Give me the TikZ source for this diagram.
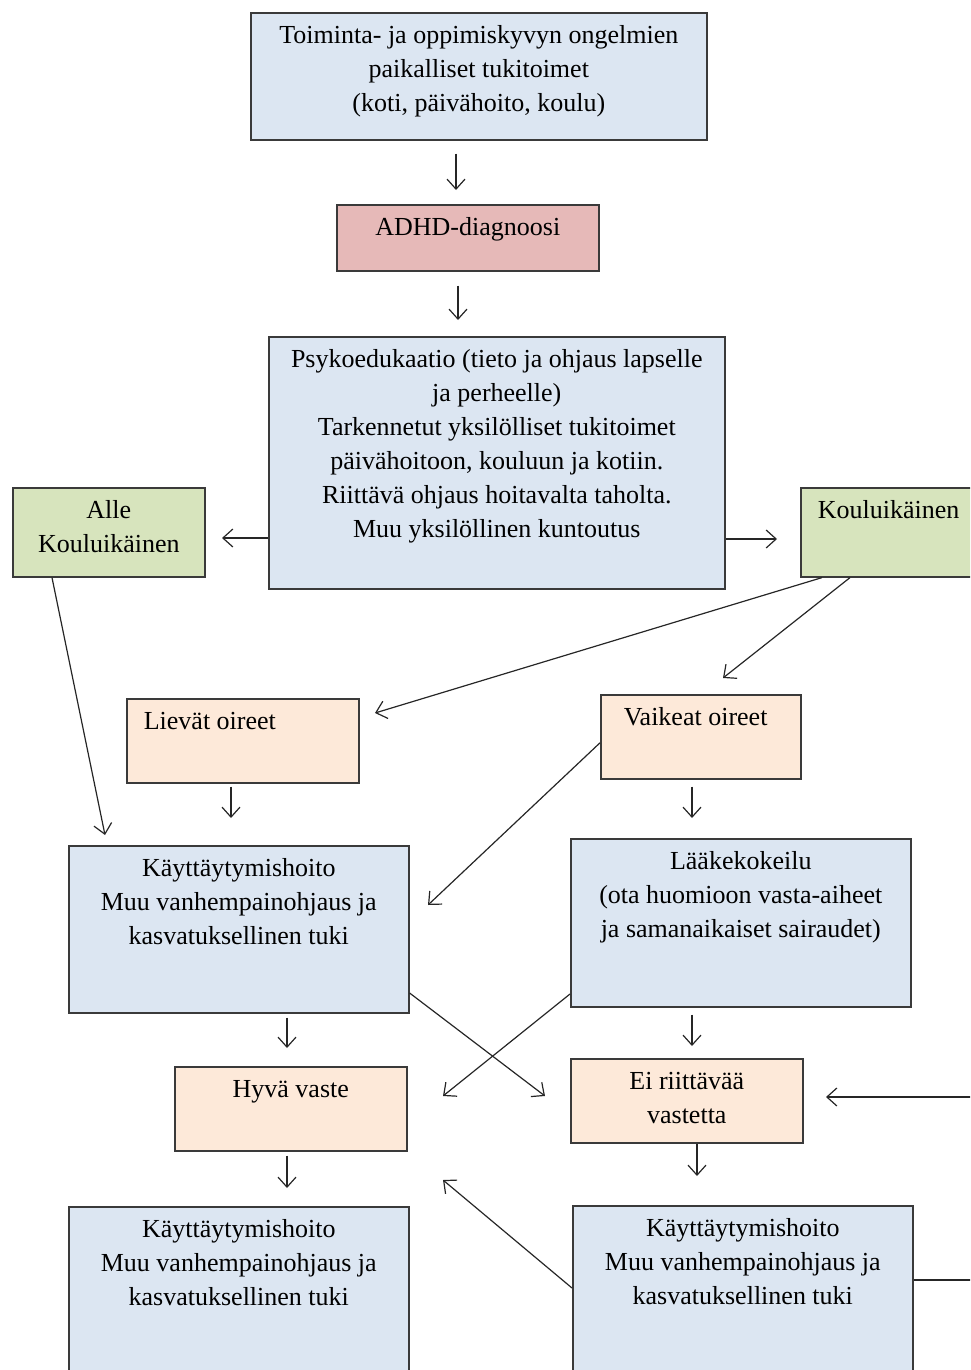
\documentclass[tikz,border=0pt]{standalone}
\usepackage{fontspec}
\setmainfont{Liberation Serif}
\usetikzlibrary{arrows.meta}
\definecolor{boxblue}{HTML}{DCE6F2}
\definecolor{boxpink}{HTML}{E6B9B8}
\definecolor{boxgreen}{HTML}{D7E4BD}
\definecolor{boxpeach}{HTML}{FDE9D9}
\definecolor{boxline}{HTML}{3A3A3A}
\newcommand{\boxtext}[3]{\parbox[t][#2][t]{#1}{\centering\rule{0pt}{15.5pt}#3}}
\newcommand{\boxtextl}[3]{\parbox[t][#2][t]{#1}{\raggedright\rule{0pt}{15.5pt}#3}}

\begin{document}
\begin{tikzpicture}[x=0.5pt, y=-0.5pt,
    box/.style={draw=boxline, line width=0.8pt, inner sep=0pt, anchor=north west,
      font=\fontsize{13}{17}\selectfont},
    arr/.style={draw=black!85, line width=0.6pt, -{Straight Barb[length=5pt,width=9pt]}}]
  \useasboundingbox (0,0) rectangle (970,1370);
  \clip (0,0) rectangle (970,1370);

  \node[box, fill=boxblue] (top) at (250,12)
    {\boxtext{228pt}{63.5pt}{Toiminta- ja oppimiskyvyn ongelmien\\ paikalliset tukitoimet\\ (koti, päivähoito, koulu)}};
  \node[box, fill=boxpink] (adhd) at (336,204)
    {\boxtext{131pt}{33pt}{ADHD-diagnoosi}};
  \node[box, fill=boxblue] (psy) at (268,336)
    {\boxtext{228pt}{126pt}{Psykoedukaatio (tieto ja ohjaus lapselle\\ ja perheelle)\\ Tarkennetut yksilölliset tukitoimet\\ päivähoitoon, kouluun ja kotiin.\\ Riittävä ohjaus hoitavalta taholta.\\ Muu yksilöllinen kuntoutus}};
  \node[box, fill=boxgreen] (alle) at (12,487)
    {\boxtext{96pt}{44.5pt}{Alle\\ Kouluikäinen}};
  \node[box, fill=boxgreen] (koulu) at (800,487)
    {\boxtextl{130pt}{44.5pt}{\hspace*{8.5pt}Kouluikäinen}};
  \node[box, fill=boxpeach] (liev) at (126,698)
    {\boxtextl{116pt}{42pt}{\hspace*{8.5pt}Lievät oireet}};
  \node[box, fill=boxpeach] (vaik) at (600,694)
    {\boxtextl{100pt}{42pt}{\hspace*{11.5pt}Vaikeat oireet}};
  \node[box, fill=boxblue] (kay1) at (68,845)
    {\boxtext{170pt}{83.5pt}{Käyttäytymishoito\\ Muu vanhempainohjaus ja\\ kasvatuksellinen tuki}};
  \node[box, fill=boxblue] (laak) at (570,838)
    {\boxtext{170pt}{84pt}{Lääkekokeilu\\ (ota huomioon vasta-aiheet\\ ja samanaikaiset sairaudet)}};
  \node[box, fill=boxpeach] (hyva) at (174,1066)
    {\boxtext{116pt}{42pt}{Hyvä vaste}};
  \node[box, fill=boxpeach] (ei) at (570,1058)
    {\boxtext{116pt}{42pt}{Ei riittävää\\ vastetta}};
  \node[box, fill=boxblue] (kay2) at (68,1206)
    {\boxtext{170pt}{97pt}{Käyttäytymishoito\\ Muu vanhempainohjaus ja\\ kasvatuksellinen tuki}};
  \node[box, fill=boxblue] (kay3) at (572,1205)
    {\boxtext{170pt}{97.5pt}{Käyttäytymishoito\\ Muu vanhempainohjaus ja\\ kasvatuksellinen tuki}};

  \coordinate (t1) at (456,190);
  \coordinate (t2) at (458,320);
  \coordinate (t3) at (222,538);
  \coordinate (t4) at (777,539);
  \coordinate (t5) at (105,835);
  \coordinate (t6) at (375,713);
  \coordinate (t7) at (723,678);
  \coordinate (t8) at (231,818);
  \coordinate (t9) at (428,905);
  \coordinate (t10) at (692,818);
  \coordinate (t11) at (287,1048);
  \coordinate (t12) at (545,1096);
  \coordinate (t13) at (443,1096);
  \coordinate (t14) at (692,1046);
  \coordinate (t15) at (287,1188);
  \coordinate (t16) at (697,1176);
  \coordinate (t17) at (443,1180);
  \coordinate (t18) at (826,1097);

  \draw[arr, shorten <=6.5pt] (top.south -| t1) -- (t1);
  \draw[arr, shorten <=7pt] (adhd.south -| t2) -- (t2);
  \draw[arr] (psy.west |- t3) -- (t3);
  \draw[arr] (psy.east |- t4) -- (t4);
  \draw[arr] ([xshift=20pt]alle.south west) -- (t5);
  \draw[arr] ([xshift=11pt]koulu.south west) -- (t6);
  \draw[arr] ([xshift=25pt]koulu.south west) -- (t7);
  \draw[arr, shorten <=1.5pt] (liev.south -| t8) -- (t8);
  \draw[arr] ([yshift=-3pt]vaik.west) -- (t9);
  \draw[arr, shorten <=3.5pt] (vaik.south -| t10) -- (t10);
  \draw[arr, shorten <=2pt] (kay1.south -| t11) -- (t11);
  \draw[arr] ([yshift=-74pt]kay1.north east) -- (t12);
  \draw[arr] ([yshift=-78pt]laak.north west) -- (t13);
  \draw[arr, shorten <=3.5pt] (laak.south -| t14) -- (t14);
  \draw[arr, shorten <=2pt] (hyva.south -| t15) -- (t15);
  \draw[arr] (ei.south -| t16) -- (t16);
  \draw[arr] ([yshift=-41.5pt]kay3.north west) -- (t17);
  \draw[arr] ([yshift=-37.5pt]kay3.north east) -- ++(100,0) |- (t18);
\end{tikzpicture}
\end{document}
